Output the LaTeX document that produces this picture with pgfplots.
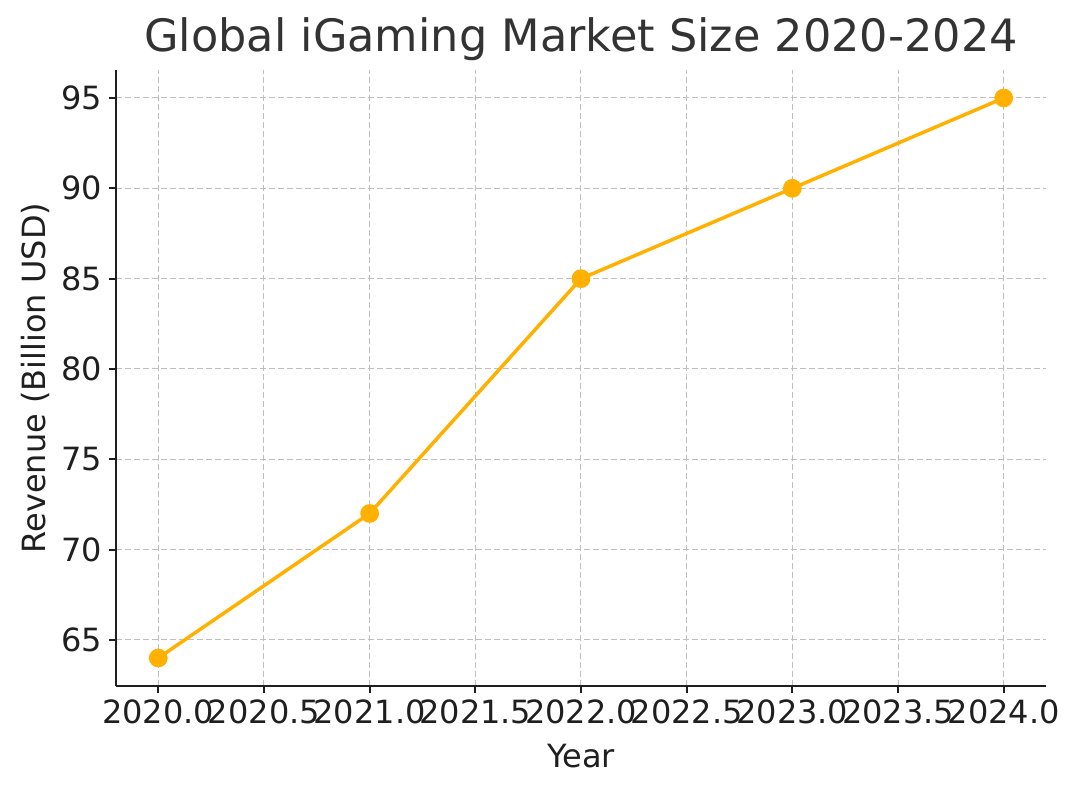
\documentclass[border=0pt]{standalone}
\usepackage{pgfplots}
\pgfplotsset{compat=1.18}
\usepackage{fontspec}
\setmainfont{DejaVu Sans}
\definecolor{lineor}{HTML}{FFB000}
\definecolor{txt}{HTML}{1F1F1F}
\definecolor{ttl}{HTML}{333333}
\begin{document}
\begin{tikzpicture}
\begin{axis}[
  at={(0,0)}, anchor=south west,
  scale only axis, width=465pt, height=308pt,
  xmin=2019.8, xmax=2024.2, ymin=62.45, ymax=96.55,
  axis x line*=bottom, axis y line*=left,
  axis line style={txt, line width=0.9pt},
  tick align=outside, tick style={txt, line width=0.9pt},
  major tick length=3.5pt,
  xtick={2020,2020.5,...,2024},
  ytick={65,70,...,95},
  /pgf/number format/assume math mode=true,
  xticklabel style={/pgf/number format/.cd, fixed, fixed zerofill, precision=1, 1000 sep={}},
  yticklabel style={/pgf/number format/.cd, fixed},
  ticklabel style={font=\fontsize{16}{19}\selectfont, text=txt},
  grid=major,
  grid style={dash pattern=on 3pt off 1.5pt, color=gray!50, line width=0.5pt},
  title={Global iGaming Market Size 2020-2024},
  title style={font=\fontsize{22.3}{26}\selectfont, text=ttl, yshift=-5pt},
  xlabel={Year}, ylabel={Revenue (Billion USD)},
  label style={font=\fontsize{16}{19}\selectfont, text=txt},
  xlabel style={yshift=-3pt},
  ylabel style={yshift=-1pt},
]
\addplot[color=lineor, line width=1.75pt, mark=*, mark size=3.8pt, mark options={fill=lineor, draw=lineor}]
coordinates {(2020,64) (2021,72) (2022,85) (2023,90) (2024,95)};
\end{axis}
\pgfresetboundingbox
\useasboundingbox (-58pt,-53.5pt) rectangle (483pt,343pt);
\end{tikzpicture}
\end{document}
